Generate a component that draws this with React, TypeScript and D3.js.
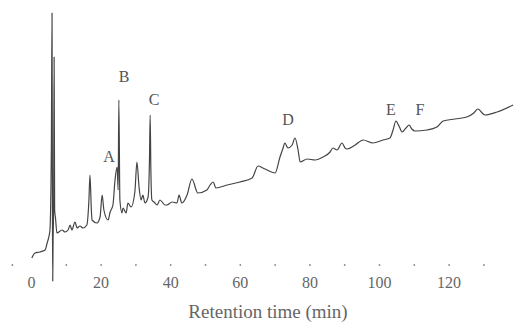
import { useEffect, useRef } from 'react'
import * as d3 from 'd3'

// retention time (min) and detector signal (arbitrary units)
const times = [
  0.1, 1.0, 2.4, 3.9, 4.5, 4.9, 5.3, 5.7, 5.9, 6.02, 6.1, 6.2, 6.35, 6.5, 6.65, 6.9, 7.3, 8.8, 9.6, 10.5,
  11.1, 11.6, 12.5, 13.1, 13.9, 14.8, 15.9, 16.5, 16.8, 17.2, 17.4, 18.8, 19.7, 20.3, 20.8, 22.0, 22.6, 23.4, 24.0, 24.6,
  24.9, 25.1, 25.4, 26.0, 26.3, 27.2, 27.7, 28.6, 29.7, 30.3, 30.9, 31.5, 32.0, 32.6, 33.5, 33.9, 34.1, 34.3, 34.6, 35.2,
  36.1, 36.9, 38.4, 38.9, 40.4, 41.8, 42.4, 43.2, 44.7, 46.1, 47.8, 50.4, 51.3, 52.2, 53.0, 56.2, 59.9, 63.4, 65.1, 66.5,
  67.7, 70.0, 71.4, 72.3, 72.8, 73.7, 74.9, 75.7, 76.6, 77.2, 79.2, 81.5, 83.8, 85.8, 86.6, 87.8, 89.2, 90.1, 90.7, 93.0,
  95.3, 98.1, 101.0, 103.0, 103.9, 104.7, 105.6, 106.5, 107.6, 108.5, 109.3, 110.2, 113.6, 116.5, 118.3, 121.7, 125.1, 127.1, 128.3, 129.5,
  130.3, 133.8, 138.4,
]
const signal = [
  12, 17, 18, 20, 27, 32, 40, 120, 257, 60, -11, 30, 60, 213, 60, 52, 37, 40, 38, 40,
  45, 40, 48, 42, 44, 42, 45, 70, 95, 60, 50, 47, 53, 75, 60, 50, 58, 65, 90, 103,
  80, 170, 70, 57, 62, 57, 67, 63, 78, 108, 83, 70, 75, 67, 73, 110, 155, 100, 70, 68,
  65, 70, 65, 65, 68, 67, 75, 67, 75, 91, 77, 80, 85, 88, 82, 85, 88, 92, 104, 102,
  100, 97, 113, 122, 127, 122, 125, 132, 120, 108, 111, 110, 113, 118, 122, 120, 127, 122, 121, 125,
  130, 127, 130, 132, 140, 149, 144, 138, 142, 145, 141, 139, 140, 143, 149, 151, 153, 157, 161, 157,
  155, 158, 165,
]

const peakNames = ['A', 'B', 'C', 'D', 'E', 'F']
const peakTimes = [22.3, 26.6, 35.2, 73.7, 103.3, 111.6]
const peakLabelLevel = [108, 188, 165, 145, 155, 155]

const tickLabels = [0, 20, 40, 60, 80, 100, 120]
const tickDots = [-5.5, 10, 20, 30, 40, 50, 60, 70, 80, 90, 100, 110, 120, 130]

const W = 514
const H = 327

export default function App() {
  const svgRef = useRef<SVGSVGElement>(null)

  useEffect(() => {
    if (!svgRef.current) return
    const svg = d3.select(svgRef.current)
    svg.selectAll('*').remove()

    const x = d3.scaleLinear().domain([0, 130]).range([31.5, 483.9])
    const y = d3.scaleLinear().domain([0, 270]).range([270, 0])
    const axisY = 265

    svg.append('rect').attr('width', W).attr('height', H).attr('fill', '#fff')

    // dotted axis marks
    svg
      .append('g')
      .selectAll('circle')
      .data(tickDots)
      .join('circle')
      .attr('cx', (d) => x(d))
      .attr('cy', axisY)
      .attr('r', 0.9)
      .attr('fill', '#888')

    svg
      .append('g')
      .selectAll('text')
      .data(tickLabels)
      .join('text')
      .attr('x', (d) => x(d))
      .attr('y', 288)
      .attr('text-anchor', 'middle')
      .style('font-family', '"Liberation Serif", serif')
      .style('font-size', '16px')
      .style('fill', '#666')
      .text((d) => d)

    svg
      .append('text')
      .attr('x', 268)
      .attr('y', 318)
      .attr('text-anchor', 'middle')
      .style('font-family', '"Liberation Serif", serif')
      .style('font-size', '19px')
      .style('fill', '#666')
      .text('Retention time (min)')

    const pts = times.map((t, i) => [t, signal[i]] as [number, number])
    const line = d3
      .line<[number, number]>()
      .x((d) => x(d[0]))
      .y((d) => y(d[1]))
      .curve(d3.curveMonotoneX)

    svg
      .append('path')
      .datum(pts)
      .attr('fill', 'none')
      .attr('stroke', '#444')
      .attr('stroke-width', 1.2)
      .attr('stroke-linejoin', 'round')
      .attr('d', line)

    svg
      .append('g')
      .selectAll('text')
      .data(peakNames)
      .join('text')
      .attr('x', (_, i) => x(peakTimes[i]))
      .attr('y', (_, i) => y(peakLabelLevel[i]))
      .attr('text-anchor', 'middle')
      .style('font-family', '"Liberation Serif", serif')
      .style('font-size', '16px')
      .style('fill', '#555')
      .text((d) => d)
  }, [])

  return (
    <svg
      ref={svgRef}
      width={W}
      height={H}
      style={{ position: 'absolute', left: 0, top: 0, display: 'block' }}
    />
  )
}
